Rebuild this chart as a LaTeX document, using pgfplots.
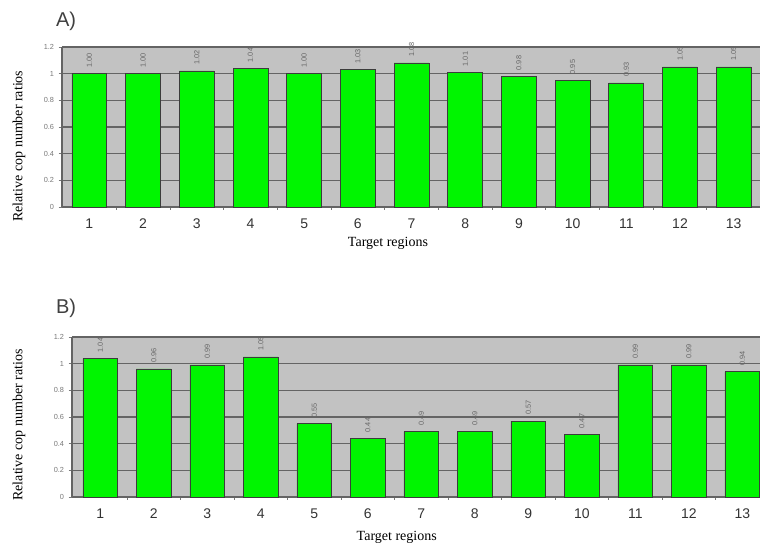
\documentclass[border=0pt]{standalone}
\usepackage{fontspec}
\setmainfont{Liberation Sans}
\newfontfamily\serif{Liberation Serif}
\usepackage{pgfplots}
\pgfplotsset{compat=1.18}
\definecolor{bggray}{RGB}{194,194,194}
\definecolor{gridgray}{RGB}{100,100,100}
\definecolor{bargreen}{RGB}{0,245,0}
\definecolor{barline}{RGB}{60,60,60}
\definecolor{tickgray}{RGB}{120,120,120}
\pgfplotsset{panel/.style={
  scale only axis, height=120pt,
  ybar, bar width=0.65, bar shift=0pt,
  ymin=0, ymax=1.2, ytick={0,0.2,0.4,0.6,0.8,1,1.2},
  xtick={1,...,13},
  minor xtick={1.5,2.5,...,12.5},
  axis background/.style={fill=bggray},
  ymajorgrids, grid style={gridgray, line width=0.9pt},
  axis x line*=bottom, axis y line*=left,
  axis line style={gridgray, line width=0.8pt},
  tick align=outside, major tick length=2.5pt, minor tick length=2pt,
  major x tick style={draw=none},
  tick style={tickgray, line width=0.6pt},
  y tick label style={font=\fontsize{5.5}{6}\selectfont, text=tickgray},
  x tick label style={font=\fontsize{10.5}{12}\selectfont, text=black!80, yshift=-3pt},
  /pgf/number format/assume math mode=true,
  nodes near coords,
  nodes near coords style={rotate=90, anchor=west, xshift=1pt, font=\fontsize{5.5}{6}\selectfont, text=black!60,
    /pgf/number format/fixed, /pgf/number format/precision=2, /pgf/number format/fixed zerofill},
  enlargelimits=false, clip=false,
  ylabel={Relative cop number ratios},
  xlabel={Target regions},
  ylabel style={anchor=center, font=\serif\fontsize{10.5}{12}\selectfont},
  xlabel style={anchor=center, font=\serif\fontsize{10.5}{12}\selectfont},
}}
\begin{document}
\begin{tikzpicture}[x=1pt,y=1pt]
\useasboundingbox (0,0) rectangle (570,409.5);
\node[font=\fontsize{15}{18}\selectfont, text=black!75] at (49.5,393.75) {A)};
\node[font=\fontsize{15}{18}\selectfont, text=black!75] at (49.5,178.5) {B)};
\begin{axis}[panel, at={(46.5pt,254.25pt)}, anchor=south west, width=523.5pt,
  xmin=0.49, xmax=13.49,
  ylabel style={at={(axis description cs:-0.0616,0.38)}},
  xlabel style={at={(axis description cs:0.467,-0.23)}}]
\addplot[fill=bargreen, draw=barline, line width=0.6pt] coordinates {
(1,1.00)(2,1.00)(3,1.02)(4,1.04)(5,1.00)(6,1.03)(7,1.08)(8,1.01)(9,0.98)(10,0.95)(11,0.93)(12,1.05)(13,1.05)};
\end{axis}
\begin{axis}[panel, at={(54pt,36.75pt)}, anchor=south west, width=516pt,
  xmin=0.47, xmax=13.33,
  ylabel style={at={(axis description cs:-0.077,0.45)}},
  xlabel style={at={(axis description cs:0.472,-0.25)}}]
\addplot[fill=bargreen, draw=barline, line width=0.6pt] coordinates {
(1,1.04)(2,0.96)(3,0.99)(4,1.05)(5,0.55)(6,0.44)(7,0.49)(8,0.49)(9,0.57)(10,0.47)(11,0.99)(12,0.99)(13,0.94)};
\end{axis}
\end{tikzpicture}
\end{document}
